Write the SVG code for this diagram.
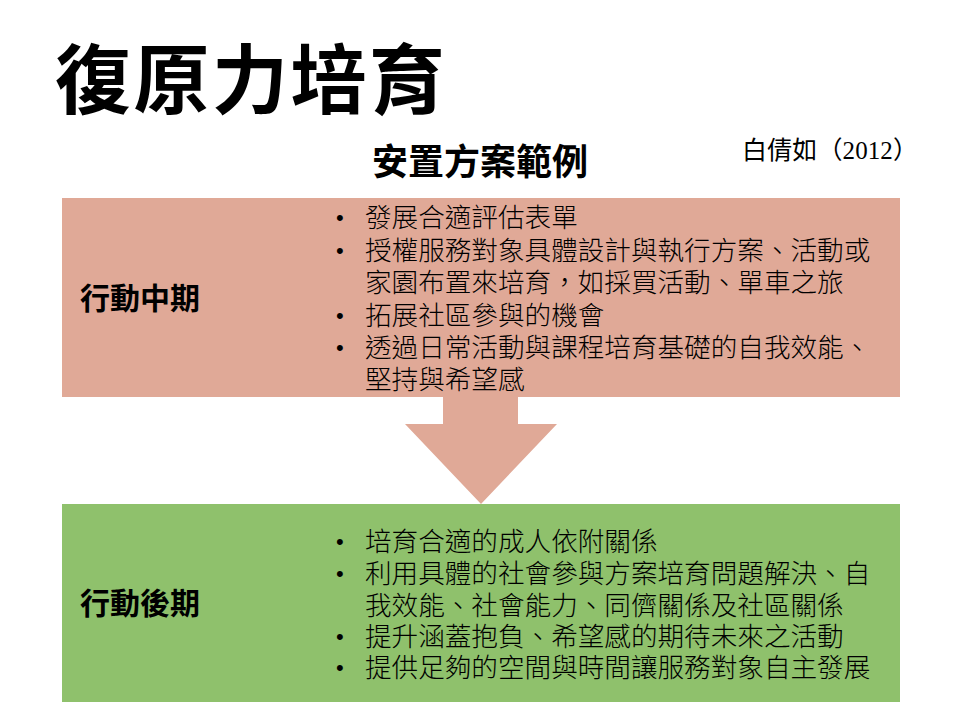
<svg xmlns="http://www.w3.org/2000/svg" width="960" height="720" viewBox="0 0 960 720">
<style>
.title{font-family:"Noto Sans CJK TC","Noto Sans CJK SC",sans-serif;font-weight:bold;fill:#000}
.lbl{font-family:"Noto Sans CJK TC","Noto Sans CJK SC",sans-serif;font-weight:bold;font-size:30px;fill:#000}
.item{font-family:"Noto Sans CJK TC","Noto Sans CJK SC",sans-serif;font-weight:300;font-size:26.6px;fill:#000}
.bul{font-family:"Liberation Sans",sans-serif;font-size:22px;fill:#000}
.cite{font-family:"Liberation Serif","Noto Sans CJK TC",serif;font-size:25px;fill:#000}
</style>
<rect width="960" height="720" fill="#fff"/>
<text class="title" x="55" y="108" font-size="76" textLength="390">復原力培育</text>
<text class="title" x="480" y="175" font-size="36" text-anchor="middle">安置方案範例</text>
<text class="cite" x="742" y="159" textLength="176">白倩如（2012）</text>
<g id="connectors">
<polygon points="443,396 518,396 518,424 557,424 481,504 405,424 443,424" fill="#E0A997"/>
</g>
<g id="mid">
<rect x="62" y="198" width="838" height="199" fill="#E0A997"/>
<text class="lbl" x="80" y="309">行動中期</text>
<g class="bul"><text x="336" y="225">•</text><text x="336" y="258">•</text><text x="336" y="323">•</text><text x="336" y="355">•</text></g>
<text class="item" x="365" y="227">發展合適評估表單</text>
<text class="item" x="365" y="260">授權服務對象具體設計與執行方案、活動或</text>
<text class="item" x="365" y="292">家園布置來培育，如採買活動、單車之旅</text>
<text class="item" x="365" y="325">拓展社區參與的機會</text>
<text class="item" x="365" y="357">透過日常活動與課程培育基礎的自我效能、</text>
<text class="item" x="365" y="389">堅持與希望感</text>
</g>
<g id="late">
<rect x="62" y="504" width="838" height="198" fill="#8FC16C"/>
<text class="lbl" x="80" y="614">行動後期</text>
<g class="bul"><text x="336" y="549">•</text><text x="336" y="581">•</text><text x="336" y="644">•</text><text x="336" y="675">•</text></g>
<text class="item" x="365" y="551">培育合適的成人依附關係</text>
<text class="item" x="365" y="583">利用具體的社會參與方案培育問題解決、自</text>
<text class="item" x="365" y="615">我效能、社會能力、同儕關係及社區關係</text>
<text class="item" x="365" y="646">提升涵蓋抱負、希望感的期待未來之活動</text>
<text class="item" x="365" y="677">提供足夠的空間與時間讓服務對象自主發展</text>
</g>
</svg>
